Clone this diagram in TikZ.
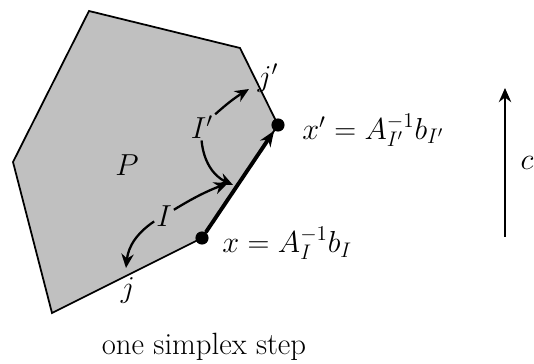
\documentclass[tikz,border=0pt]{standalone}
\usepackage{tikz}
\usetikzlibrary{arrows.meta}
\definecolor{polyG}{RGB}{192,192,192}

\begin{document}
\begin{tikzpicture}[x=0.02cm, y=-0.02cm,
    every node/.style={font=\fontsize{17.5}{21}\selectfont},
    vtx/.style={circle, fill=black, inner sep=0pt, minimum size=7.5pt},
    face/.style={draw=black, line width=1pt, fill=polyG, line join=miter},
    stepedge/.style={line width=2.2pt, -{Stealth[length=9pt, width=7pt]}},
    idxarrow/.style={line width=1.3pt, -{Stealth[length=8pt, width=7pt]}},
    lbl/.style={inner sep=1pt}
  ]
  \useasboundingbox (0,0) rectangle (534,364);

  % polygon P
  \coordinate (v1) at (13,162);
  \coordinate (v2) at (89,11);
  \coordinate (v3) at (240,48);
  \coordinate (v4) at (278,125);
  \coordinate (v5) at (202,238);
  \coordinate (v6) at (52,313);
  \draw[face] (v1) -- (v2) -- (v3) -- (v4) -- (v5) -- (v6) -- cycle;
  \node[lbl] (P) at (127,165) {$P$};

  % vertices and the step
  \node[vtx] (x) at (v5) {};
  \node[vtx] (xp) at (v4) {};
  \draw[stepedge] (x) -- (xp);
  \node[anchor=west, inner sep=0pt] (xlbl) at (222,243) {$x = A_I^{-1} b_I$};
  \node[anchor=west, inner sep=0pt] (xplbl) at (302,130) {$x' = A_{I'}^{-1} b_{I'}$};

  % index sets
  \node[lbl] (I) at (164,216) {$I$};
  \node[lbl] (Ip) at (202,127) {$I'$};
  \node[lbl] (j) at (128,291) {$j$};
  \node[lbl] (jp) at (268,78) {$j'$};
  \coordinate (Ie1) at (228,183);
  \coordinate (Ie2) at (126,268);
  \coordinate (Ipe1) at (249,89);
  \coordinate (Ipe2) at (233,185);
  \draw[idxarrow] (I) to[bend left=5] (Ie1);
  \draw[idxarrow] (I) to[bend right=25] (Ie2);
  \draw[idxarrow] (Ip) to[bend left=5] (Ipe1);
  \draw[idxarrow] (Ip) to[bend right=30] (Ipe2);

  % cost direction
  \coordinate (cbot) at (505,237);
  \coordinate (ctop) at (505,88);
  \draw[idxarrow] (cbot) -- (ctop);
  \node[lbl] (c) at (527,163) {$c$};

  \node (cap) at (204,347) {one simplex step};
\end{tikzpicture}
\end{document}
